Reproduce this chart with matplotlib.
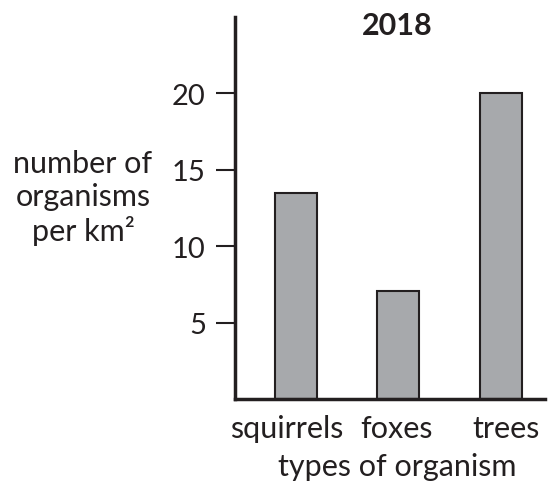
import matplotlib
matplotlib.use("Agg")
import matplotlib.pyplot as plt
from matplotlib.transforms import ScaledTranslation

plt.rcParams['font.family'] = ['Lato', 'DejaVu Sans']

categories = ["squirrels", "foxes", "trees"]
values = [13.5, 7.1, 20]
yticks = [5, 10, 15, 20]

ink = "#231f20"

fig = plt.figure(figsize=(5.52, 4.85), dpi=100)
ax = fig.add_axes([235/552, 1 - 400/485, 310/552, 382/485])

x = range(len(categories))
ax.bar(x, values, width=0.41, color="#a7a9ac", edgecolor=ink, linewidth=1.5)

ax.set_xlim(-0.595, 2.43)
ax.set_ylim(0, 25)
ax.set_yticks(yticks)
ax.set_xticks(list(x))
ax.set_xticklabels(categories)
ax.tick_params(axis='y', direction='out', length=14, width=1.5, colors=ink,
               labelsize=21, pad=7)
ax.tick_params(axis='x', length=0, labelsize=22, colors=ink, pad=11)

# labels in the original sit a little off the bar centres
shifts = [-9, -1.5, 5]
for lab, dx in zip(ax.get_xticklabels(), shifts):
    lab.set_transform(lab.get_transform() + ScaledTranslation(dx / 100, 0, fig.dpi_scale_trans))

for s in ["top", "right"]:
    ax.spines[s].set_visible(False)
for s in ["left", "bottom"]:
    ax.spines[s].set_linewidth(2.5)
    ax.spines[s].set_color(ink)

fig.text(397/552, 1 - 26/485, "2018", ha="center", va="center",
         fontsize=22, fontweight="bold", color=ink)
fig.text(83/552, 1 - 198/485, "number of\norganisms\nper km²", ha="center",
         va="center", fontsize=22, color=ink, linespacing=1.2)
fig.text(397/552, 1 - 467/485, "types of organism", ha="center", va="center",
         fontsize=22, color=ink)

fig.savefig("out.png", dpi=100)
